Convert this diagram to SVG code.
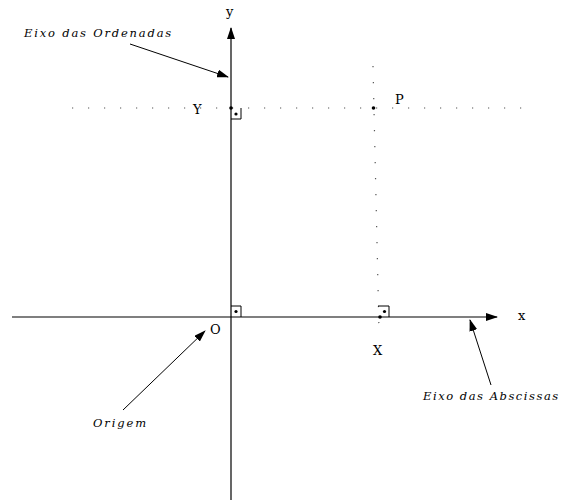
<svg xmlns="http://www.w3.org/2000/svg" width="561" height="502" viewBox="0 0 561 502">
<style>
.ax{stroke:#000;stroke-width:1.2;fill:none}
.dot{stroke:#555;stroke-width:1.2;fill:none;stroke-dasharray:1.2 14.8}
.sq{stroke:#000;stroke-width:1;fill:none}
.lab{font-family:"DejaVu Serif","Liberation Serif",serif;font-size:13px;fill:#000}
.it{font-family:"DejaVu Serif","Liberation Serif",serif;font-style:italic;font-size:11.5px;letter-spacing:1.8px;fill:#000}
.ptr{stroke:#000;stroke-width:1;fill:none}
</style>
<defs>
<marker id="ah" markerWidth="12" markerHeight="8" refX="11" refY="4" orient="auto" markerUnits="userSpaceOnUse">
<path d="M0,0 L12,4 L0,8 Z" fill="#000"/>
</marker>
</defs>
<g id="connectors">
<line class="ax" x1="12" y1="317" x2="497" y2="317" marker-end="url(#ah)"/>
<line class="ax" x1="231" y1="500" x2="231" y2="28" marker-end="url(#ah)"/>
<line class="dot" x1="72" y1="108" x2="532" y2="108"/>
<line class="dot" x1="373" y1="66" x2="379" y2="330"/>
<line class="ptr" x1="130" y1="44" x2="228" y2="77" marker-end="url(#ah)"/>
<line class="ptr" x1="123" y1="410" x2="205" y2="331" marker-end="url(#ah)"/>
<line class="ptr" x1="491" y1="385" x2="470" y2="320" marker-end="url(#ah)"/>
</g>
<g id="node-O">
<path class="sq" d="M231,306 H241 V317"/>
<circle cx="236" cy="311.5" r="1.6"/>
<text class="lab" x="210" y="334">O</text>
</g>
<g id="node-Y">
<circle cx="231" cy="108" r="1.8"/>
<path class="sq" d="M231,119 H241 V108"/>
<circle cx="236" cy="114" r="1.6"/>
<text class="lab" x="193" y="114">Y</text>
</g>
<g id="node-X">
<circle cx="380" cy="317" r="1.8"/>
<path class="sq" d="M378,306 H389 V317"/>
<circle cx="384.5" cy="311.5" r="1.6"/>
<text class="lab" x="373" y="355">X</text>
</g>
<g id="node-P">
<circle cx="373.5" cy="108" r="1.8"/>
<text class="lab" x="395" y="104">P</text>
</g>
<g id="node-x"><text class="lab" x="518" y="320">x</text></g>
<g id="node-y"><text class="lab" x="226" y="16">y</text></g>
<g id="label-ordenadas"><text class="it" x="24" y="37" textLength="149" lengthAdjust="spacing">Eixo das Ordenadas</text></g>
<g id="label-origem"><text class="it" x="93" y="427" textLength="55" lengthAdjust="spacing">Origem</text></g>
<g id="label-abscissas"><text class="it" x="423" y="400" textLength="137" lengthAdjust="spacing">Eixo das Abscissas</text></g>
</svg>
